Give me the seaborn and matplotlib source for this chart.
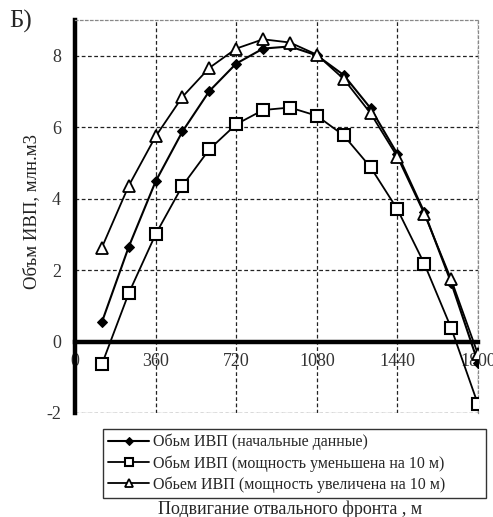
import matplotlib
matplotlib.use("Agg")
import matplotlib.pyplot as plt
import seaborn as sns
import pandas as pd

# ---- data ----
advance_m = [120, 240, 360, 480, 600, 720, 840, 960, 1080, 1200, 1320, 1440, 1560, 1680, 1800]
vol_initial = [0.54, 2.65, 4.48, 5.88, 7.01, 7.78, 8.20, 8.26, 8.01, 7.46, 6.53, 5.25, 3.62, 1.65, -0.59]
vol_reduced = [-0.64, 1.35, 3.00, 4.36, 5.38, 6.08, 6.48, 6.55, 6.32, 5.77, 4.88, 3.70, 2.18, 0.38, -1.76]
vol_increased = [2.63, 4.36, 5.74, 6.85, 7.66, 8.20, 8.46, 8.37, 8.03, 7.35, 6.39, 5.17, 3.58, 1.74, -0.36]
series_labels = [
    "Обьм ИВП (начальные данные)",
    "Обьм ИВП (мощность уменьшена на 10 м)",
    "Обьем ИВП (мощность увеличена на 10 м)",
]
x_ticks = [0, 360, 720, 1080, 1440, 1800]
y_ticks = [-2, 0, 2, 4, 6, 8]
x_label = "Подвигание отвального фронта , м"
y_label = "Объм ИВП, млн.м3"
panel_label = "Б)"

sns.set_style("white")
plt.rcParams['font.family'] = ['Liberation Serif', 'DejaVu Serif']

fig = plt.figure(figsize=(4.93, 5.17), dpi=100)
ax = fig.add_axes([0.1521, 0.2012, 0.8175, 0.7601])

df = pd.DataFrame({"x": advance_m, "a": vol_initial, "b": vol_reduced, "c": vol_increased})

sns.lineplot(data=df, x="x", y="a", ax=ax, color="black", linewidth=1.5,
             marker="D", markersize=5.5, markerfacecolor="black", markeredgecolor="black",
             label=series_labels[0], zorder=5)
sns.lineplot(data=df, x="x", y="b", ax=ax, color="black", linewidth=1.3,
             marker="s", markersize=8, markerfacecolor="white", markeredgecolor="black",
             markeredgewidth=1.5, label=series_labels[1], zorder=5)
sns.lineplot(data=df, x="x", y="c", ax=ax, color="black", linewidth=1.3,
             marker="^", markersize=8, markerfacecolor="white", markeredgecolor="black",
             markeredgewidth=1.3, label=series_labels[2], zorder=5)

ax.set_xlim(x_ticks[0], x_ticks[-1])
ax.set_ylim(-2, 9)
ax.set_xticks(x_ticks)
ax.set_yticks(y_ticks)
ax.set_xticklabels([str(t) for t in x_ticks])
ax.set_yticklabels([str(t) for t in y_ticks])
ax.set_xlabel("")
ax.set_ylabel("")

ax.grid(True, color="#222222", linestyle=(0, (3, 2)), linewidth=0.9)
ax.set_axisbelow(True)

# spines
ax.spines['bottom'].set_position(('data', 0))
ax.spines['bottom'].set_linewidth(3.2)
ax.spines['bottom'].set_color('black')
ax.spines['bottom'].set_zorder(4)
ax.spines['left'].set_linewidth(3.2)
ax.spines['left'].set_color('black')
for s in ['top', 'right']:
    ax.spines[s].set_linestyle((0, (2, 2)))
    ax.spines[s].set_color('#888888')
    ax.spines[s].set_linewidth(0.9)
ax.axhline(-2, color='#999999', linestyle=(0, (2, 2)), linewidth=0.9, zorder=1)

ax.tick_params(axis='both', which='both', direction='inout', length=4, width=3,
               colors='black', labelcolor='#333333', labelsize=13)
ax.tick_params(axis='x', pad=6)
ax.tick_params(axis='y', pad=8)

h, l = ax.get_legend_handles_labels()
ax.get_legend().remove()
leg = fig.legend(h, l, loc='upper left', bbox_to_anchor=(0.209, 0.170, 0.777, 0.0),
                 mode='expand', frameon=True, fancybox=False, fontsize=11.5,
                 handlelength=2.6, handletextpad=0.2, labelspacing=0.3,
                 borderpad=0.3, borderaxespad=0, markerscale=0.75)
leg.get_frame().set_edgecolor('black')
leg.get_frame().set_linewidth(1.0)

fig.text(0.588, 0.015, x_label, ha='center', va='center', fontsize=13)
fig.text(0.064, 0.59, y_label, ha='center', va='center', rotation=90, fontsize=13.5, color='#222222')
fig.text(0.018, 0.958, panel_label, ha='left', va='center', fontsize=18)

fig.savefig("out.png", dpi=100)
